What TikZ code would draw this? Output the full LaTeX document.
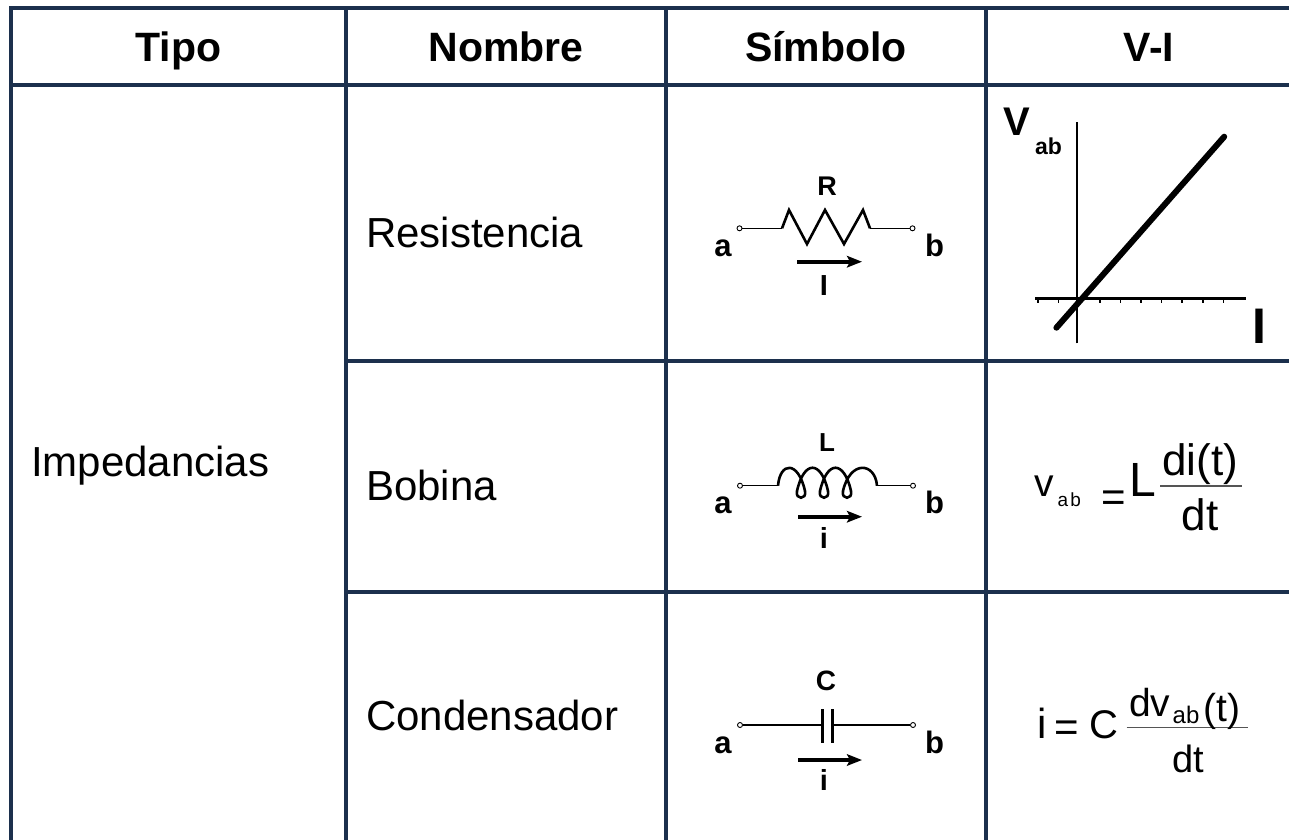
\documentclass[tikz,border=0pt]{standalone}
\usepackage{fontspec}
\setmainfont{Liberation Sans}
\usepackage{tikz}
\usetikzlibrary{arrows, arrows.meta}
\definecolor{gridline}{HTML}{1C304D}
\definecolor{barline}{HTML}{555555}
\tikzstyle{tabline} = [draw=gridline, line width=4pt]
\tikzstyle{head} = [inner sep=0pt, anchor=base, font=\fontsize{41}{48}\selectfont\bfseries]
\tikzstyle{cell} = [inner sep=0pt, anchor=base west, font=\fontsize{42}{48}\selectfont]
\tikzstyle{term} = [circle, draw=black, fill=white, line width=0.9pt, inner sep=0pt, minimum size=5pt]
\tikzstyle{lbl} = [inner sep=0pt, anchor=base, font=\fontsize{29}{32}\selectfont\bfseries]
\tikzstyle{ab} = [inner sep=0pt, anchor=base, font=\fontsize{31}{34}\selectfont\bfseries]
\tikzstyle{wire} = [line width=1.5pt]
\tikzstyle{part} = [line width=2.6pt, line join=miter]
\tikzstyle{arrow} = [line width=4pt, -{Stealth[length=15pt, width=11.5pt, inset=3pt]}]
\tikzstyle{eq} = [inner sep=0pt, anchor=base west]
\tikzstyle{frac} = [draw=barline, line width=1.3pt]

\begin{document}
\begin{tikzpicture}[x=1pt, y=-1pt]
		\path [fill=white, use as bounding box] (0,0) rectangle (1289,839);
		\clip (0,0) rectangle (1289,839);
		\draw [tabline] (9,8) -- (1330,8);
		\draw [tabline] (9,85) -- (1330,85);
		\draw [tabline] (346,361) -- (1330,361);
		\draw [tabline] (346,592) -- (1330,592);
		\foreach \x in {11,346,666,986}
			\draw [tabline] (\x,6) -- (\x,850);
		\node (tipo) [head] at (178.5,61.5) {Tipo};
		\node (nombre) [head] at (506,61.5) {Nombre};
		\node (simbolo) [head] at (826,61.5) {Símbolo};
		\node (vi) [head] at (1149,61.5) {V-I};
		\node (imp) [cell] at (31,476.7) {Impedancias};
		\node (res) [cell] at (366,247) {Resistencia};
		\node (bob) [cell] at (366,500) {Bobina};
		\node (con) [cell] at (366,730) {Condensador};

		\node (a1) [term] at (739.5,228.3) {};
		\node (b1) [term] at (912.5,228.3) {};
		\coordinate (r1) at (782,228.3);
		\coordinate (r2) at (870,228.3);
		\draw [wire] (a1) -- (r1);
		\draw [part] (r1) -- (789,210) -- (807,244) -- (825,210) -- (844,244) -- (863,210) -- (r2);
		\draw [wire] (r2) -- (b1);
		\node (rlab) [lbl, font=\fontsize{27}{32}\selectfont\bfseries] at (827,195) {R};
		\node (alab1) [ab] at (723,256) {a};
		\node (blab1) [ab] at (934.5,256) {b};
		\coordinate (i1s) at (797,261.7);
		\coordinate (i1e) at (862,261.7);
		\draw [arrow] (i1s) -- (i1e);
		\node (ilab1) [lbl] at (824,295) {I};

		\node (a2) [term] at (740,485.7) {};
		\node (b2) [term] at (913,485.7) {};
		\coordinate (l1) at (778,485.7);
		\coordinate (l2) at (877,485.7);
		\draw [wire] (a2) -- (l1);
		\draw [part] (l1) .. controls (780,462) and (798,460) .. (805,491)
			.. controls (807,500) and (795,500) .. (797,491)
			.. controls (804,460) and (821,460) .. (828,491)
			.. controls (830,500) and (818,500) .. (820,491)
			.. controls (827,460) and (844,460) .. (851,491)
			.. controls (853,500) and (841,500) .. (843,491)
			.. controls (850,460) and (875,462) .. (l2);
		\draw [wire] (l2) -- (b2);
		\node (llab) [lbl, font=\fontsize{26}{32}\selectfont\bfseries] at (827,451.7) {L};
		\node (alab2) [ab] at (723,513) {a};
		\node (blab2) [ab] at (934.5,513) {b};
		\coordinate (i2s) at (798,516.7);
		\coordinate (i2e) at (862,516.7);
		\draw [arrow] (i2s) -- (i2e);
		\node (ilab2) [lbl] at (824,548.3) {i};

		\node (a3) [term] at (740,725) {};
		\node (b3) [term] at (913,725) {};
		\coordinate (c1) at (822,725);
		\coordinate (c2) at (832,725);
		\draw [wire] (a3) -- (c1);
		\draw [wire] (c2) -- (b3);
		\draw [part, line width=3pt] (822,709) -- (822,743);
		\draw [part, line width=3pt] (832,709) -- (832,743);
		\node (clab) [lbl, font=\fontsize{28}{32}\selectfont\bfseries] at (826,690) {C};
		\node (alab3) [ab] at (723,753.3) {a};
		\node (blab3) [ab] at (934.5,753.3) {b};
		\coordinate (i3s) at (798,760);
		\coordinate (i3e) at (862,760);
		\draw [arrow] (i3s) -- (i3e);
		\node (ilab3) [lbl] at (824,790) {i};

		\coordinate (vtop) at (1077,121.7);
		\coordinate (vbot) at (1077,343.3);
		\coordinate (hleft) at (1035,298.3);
		\coordinate (hright) at (1246.4,298.3);
		\draw [line width=2.8pt] (vbot) -- (vtop);
		\draw [line width=2.8pt] (hleft) -- (hright);
		\foreach \k in {0,...,9}
			\draw [line width=1.6pt] ({1038+20.6*\k},298) -- ++(0,4.5);
		\coordinate (ls) at (1056.4,327.7);
		\coordinate (le) at (1224.2,136.7);
		\draw [line width=6pt, line cap=round] (ls) -- (le);
		\node (vlab) [lbl, font=\fontsize{40}{44}\selectfont\bfseries] at (1017,135) {V};
		\node (vsub) [lbl, font=\fontsize{23}{26}\selectfont\bfseries] at (1048.5,154) {ab};
		\node (ilab) [lbl, font=\fontsize{50}{56}\selectfont\bfseries] at (1259,343.3) {I};

		\node (v1) [eq, font=\fontsize{39}{44}\selectfont] at (1034,496.7) {v};
		\node (v1sub) [eq, font=\fontsize{19}{22}\selectfont] at (1057.5,506.7) {a\kern2pt b};
		\node (eq1) [eq, font=\fontsize{42}{48}\selectfont] at (1101,511) {=};
		\node (lsym) [eq, font=\fontsize{48}{54}\selectfont] at (1129,496.7) {L};
		\draw [frac] (1160,486) -- (1241.7,486);
		\node (num1) [inner sep=0pt, anchor=base, font=\fontsize{44}{50}\selectfont] at (1200,475) {di(t)};
		\node (den1) [inner sep=0pt, anchor=base, font=\fontsize{44}{50}\selectfont] at (1200,530) {dt};

		\node (i4) [eq, font=\fontsize{42}{48}\selectfont] at (1037,738.3) {i};
		\node (eq2) [eq, font=\fontsize{42}{48}\selectfont] at (1054,741.5) {=};
		\node (csym) [eq, font=\fontsize{40}{46}\selectfont] at (1089,738.3) {C};
		\draw [frac] (1126.7,727.3) -- (1248.3,727.3);
		\node (num2) [eq, font=\fontsize{39}{44}\selectfont] at (1129,716.7) {dv};
		\node (num2sub) [eq, font=\fontsize{24}{28}\selectfont] at (1172.5,723.3) {ab};
		\node (num2t) [eq, font=\fontsize{39}{44}\selectfont] at (1203,721.5) {(t)};
		\node (den2) [inner sep=0pt, anchor=base, font=\fontsize{38}{44}\selectfont] at (1188,772.5) {dt};
\end{tikzpicture}
\end{document}
